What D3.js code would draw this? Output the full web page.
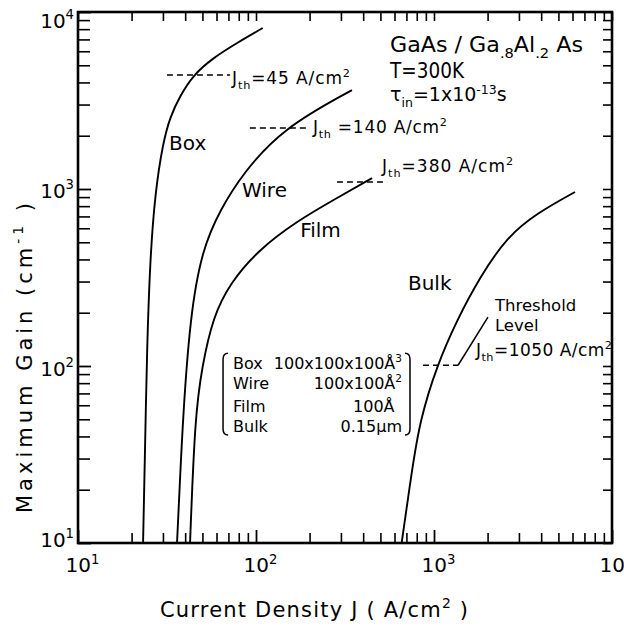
<!DOCTYPE html>
<html><head><meta charset="utf-8">
<script src="https://cdn.jsdelivr.net/npm/d3@7"></script>
<style>html,body{margin:0;padding:0;background:#fff}svg{display:block}</style>
</head><body>
<svg id="c" width="624" height="626"></svg>
<script>
// ---- data ----
const boxJ  = [23.2, 23.8, 24.4, 25.4, 27.1, 30.0, 32.9, 37.4, 44.3, 57.3, 78, 109];
const boxG  = [10, 33.5, 123, 397, 948, 1820, 2550, 3350, 4400, 5495, 6680, 8120];
const wireJ = [36.0, 37.4, 38.9, 42.6, 49.7, 62.8, 84.5, 142, 346];
const wireG = [10, 22.7, 51.5, 189, 452, 761, 1230, 2210, 3620];
const filmJ = [42.6, 45.4, 49.7, 57.3, 71.5, 103, 170, 285, 449];
const filmG = [10, 51.5, 98.7, 189, 294, 452, 659, 889, 1153];
const bulkJ = [658, 752, 834, 1040, 1347, 1811, 2570, 3790, 6200];
const bulkG = [10, 25.8, 49.5, 101, 182, 318, 536, 731, 962];
const majorTicks = [10, 100, 1000, 10000];
const majorExp = ["1", "2", "3", "4"];
const minorMult = [2, 3, 4, 5, 6, 7, 8, 9];
// threshold dashed segments: J range, gain level
const thrJ0 = [31.6, 92.4, 285, 867];
const thrJ1 = [71.5, 201, 545, 1365];
const thrG  = [4400, 2213, 1096, 101];
const thrText = ["=45 A/cm", " =140 A/cm", "=380 A/cm", "=1050 A/cm"];
const curveNames = ["Box", "Wire", "Film", "Bulk"];
const legendDims = ["100x100x100Å", "100x100Å", "100Å", "0.15µm"];
const legendSup = ["3", "2", "", ""];

const svg = d3.select("#c");
const font = "'DejaVu Sans', sans-serif";
const x = d3.scaleLog().domain([10, 1e4]).range([78, 612]);
const y = d3.scaleLog().domain([10, 1e4]).range([543, 12]);

const minors = [];
majorTicks.slice(0, 3).forEach(m => minorMult.forEach(k => minors.push(m * k)));

function rich(sel, parts, size, supRaise) {
  let shift = 0;
  const up = supRaise || 0.42;
  sel.attr("fill", "#000");
  parts.forEach(p => {
    const target = p.sup ? -up * size : p.sub ? 0.3 * size : 0;
    sel.append("tspan").attr("dy", target - shift).attr("fill", "#000")
      .attr("font-size", (p.sup || p.sub) ? size * 0.66 : size).text(p.t);
    shift = target;
  });
}
function styleAxis(g, w) {
  g.select(".domain").remove();
  g.selectAll(".tick line").attr("stroke", "#000").attr("stroke-width", w);
}

// axes: ticks pointing inward
const H = 543, L = 78, R = 612, T = 12;
const gb = svg.append("g").attr("transform", `translate(0,${H})`);
gb.call(d3.axisBottom(x).tickValues(minors).tickSize(-10).tickFormat(""));
styleAxis(gb, 1.6);
const gb2 = svg.append("g").attr("transform", `translate(0,${H})`);
gb2.call(d3.axisBottom(x).tickValues(majorTicks).tickSize(-13).tickFormat(""));
styleAxis(gb2, 1.8);
gb2.selectAll(".tick").each(function(d, i) {
  const t = d3.select(this).append("text").attr("y", 29).attr("x", 4)
    .attr("text-anchor", "middle").style("font-family", font);
  rich(t, [{t: "10"}, {t: majorExp[i], sup: true}], 20);
});

const gt = svg.append("g").attr("transform", `translate(0,${T})`);
gt.call(d3.axisTop(x).tickValues(minors.concat(majorTicks)).tickSize(-9).tickFormat(""));
styleAxis(gt, 1.6);

const gl = svg.append("g").attr("transform", `translate(${L},0)`);
gl.call(d3.axisLeft(y).tickValues(minors).tickSize(-12).tickFormat(""));
styleAxis(gl, 1.6);
const gl2 = svg.append("g").attr("transform", `translate(${L},0)`);
gl2.call(d3.axisLeft(y).tickValues(majorTicks).tickSize(-13).tickFormat(""));
styleAxis(gl2, 1.8);
const leftDy = [3, 9, 8, 15];
gl2.selectAll(".tick").each(function(d, i) {
  const t = d3.select(this).append("text").attr("x", -4).attr("y", leftDy[i])
    .attr("text-anchor", "end").style("font-family", font);
  rich(t, [{t: "10"}, {t: majorExp[i], sup: true}], 20);
});

const gr = svg.append("g").attr("transform", `translate(${R},0)`);
gr.call(d3.axisRight(y).tickValues(minors.concat(majorTicks)).tickSize(-9).tickFormat(""));
styleAxis(gr, 1.6);

// frame
svg.append("rect").attr("x", L).attr("y", T).attr("width", R - L).attr("height", H - T)
  .attr("fill", "none").attr("stroke", "#000").attr("stroke-width", 2.6);

// curves (smoothed through the read points)
const line = d3.line().x(d => x(d[0])).y(d => y(d[1])).curve(d3.curveBasis);
[[boxJ, boxG], [wireJ, wireG], [filmJ, filmG], [bulkJ, bulkG]].forEach(([J, G]) => {
  const pts = J.map((v, i) => [v, G[i]]);
  svg.append("path").datum(pts).attr("d", line)
    .attr("fill", "none").attr("stroke", "#000").attr("stroke-width", 1.9);
});

// threshold dashed lines
thrG.forEach((g, i) => {
  svg.append("line").attr("x1", x(thrJ0[i])).attr("x2", x(thrJ1[i]))
    .attr("y1", y(g)).attr("y2", y(g)).attr("stroke", "#000").attr("stroke-width", 1.5)
    .attr("stroke-dasharray", "6,4");
});
// leader line for bulk threshold
svg.append("line").attr("x1", x(1365)).attr("y1", y(101)).attr("x2", x(2010)).attr("y2", y(189))
  .attr("stroke", "#000").attr("stroke-width", 1.5);

// threshold labels
const thrLabJ = [73.3, 209, 511, 1722];
const thrLabG = [3920, 2070, 1247, 114];
const thrWidth = [118, 134, 131, 136];
thrText.forEach((s, i) => {
  const t = svg.append("text").attr("x", x(thrLabJ[i])).attr("y", y(thrLabG[i]))
    .style("font-family", font).attr("textLength", thrWidth[i]).attr("lengthAdjust", "spacing");
  rich(t, [{t: "J"}, {t: "th", sub: true}, {t: s}, {t: "2", sup: true}], 17);
});
svg.append("text").attr("x", x(2200)).attr("y", y(205)).style("font-family", font)
  .attr("font-size", 16.5).text("Threshold");
svg.append("text").attr("x", x(2200)).attr("y", y(158)).style("font-family", font)
  .attr("font-size", 16.5).text("Level");

// curve names
const nameJ = [32.5, 83.4, 177, 714];
const nameG = [1660, 902, 535, 268];
curveNames.forEach((n, i) => {
  svg.append("text").attr("x", x(nameJ[i])).attr("y", y(nameG[i])).style("font-family", font)
    .attr("font-size", 20).text(n);
});

// top-right conditions
const t1 = svg.append("text").attr("x", x(566)).attr("y", y(5940)).style("font-family", font)
  .attr("textLength", 193).attr("lengthAdjust", "spacingAndGlyphs");
rich(t1, [{t: "GaAs / Ga"}, {t: ".8", sub: true}, {t: "Al"}, {t: ".2", sub: true}, {t: " As"}], 21);
const t2 = svg.append("text").attr("x", x(566)).attr("y", y(4240)).style("font-family", font)
  .attr("textLength", 74).attr("lengthAdjust", "spacingAndGlyphs");
rich(t2, [{t: "T=300K"}], 21);
const t3 = svg.append("text").attr("x", x(566)).attr("y", y(3130)).style("font-family", font);
rich(t3, [{t: "τ"}, {t: "in", sub: true}, {t: "=1x10"}, {t: "-13", sup: true}, {t: "s"}], 19, 0.36);

// legend of dimensions
const legG = [96.2, 74.1, 55.0, 42.4];
curveNames.forEach((n, i) => {
  svg.append("text").attr("x", x(74.3)).attr("y", y(legG[i])).style("font-family", font)
    .attr("font-size", 16).text(n);
  const t = svg.append("text").attr("x", x(i === 2 ? 600 : 661)).attr("y", y(legG[i]))
    .attr("text-anchor", "end").style("font-family", font);
  const parts = [{t: legendDims[i]}];
  if (legendSup[i]) parts.push({t: legendSup[i], sup: true});
  rich(t, parts, 16);
});
// brackets
const bx0 = x(65.3), bx1 = x(733), by0 = y(118), by1 = y(40.7);
svg.append("path").attr("d", `M${bx0 + 5},${by0} Q${bx0},${by0} ${bx0},${by0 + 6} L${bx0},${by1 - 6} Q${bx0},${by1} ${bx0 + 5},${by1}`)
  .attr("fill", "none").attr("stroke", "#000").attr("stroke-width", 1.5);
svg.append("path").attr("d", `M${bx1 - 5},${by0} Q${bx1},${by0} ${bx1},${by0 + 6} L${bx1},${by1 - 6} Q${bx1},${by1} ${bx1 - 5},${by1}`)
  .attr("fill", "none").attr("stroke", "#000").attr("stroke-width", 1.5);

// axis titles
const xt = svg.append("text").attr("x", 314).attr("y", 617).attr("text-anchor", "middle")
  .style("font-family", font).attr("textLength", 308).attr("lengthAdjust", "spacing");
rich(xt, [{t: "Current Density J ( A/cm"}, {t: "2", sup: true}, {t: " )"}], 21);
const yt = svg.append("text").attr("transform", "translate(32,358) rotate(-90)")
  .attr("text-anchor", "middle").style("font-family", font)
  .attr("textLength", 310).attr("lengthAdjust", "spacing");
rich(yt, [{t: "Maximum Gain (cm"}, {t: "-1", sup: true}, {t: " )"}], 21);
</script>
</body></html>
